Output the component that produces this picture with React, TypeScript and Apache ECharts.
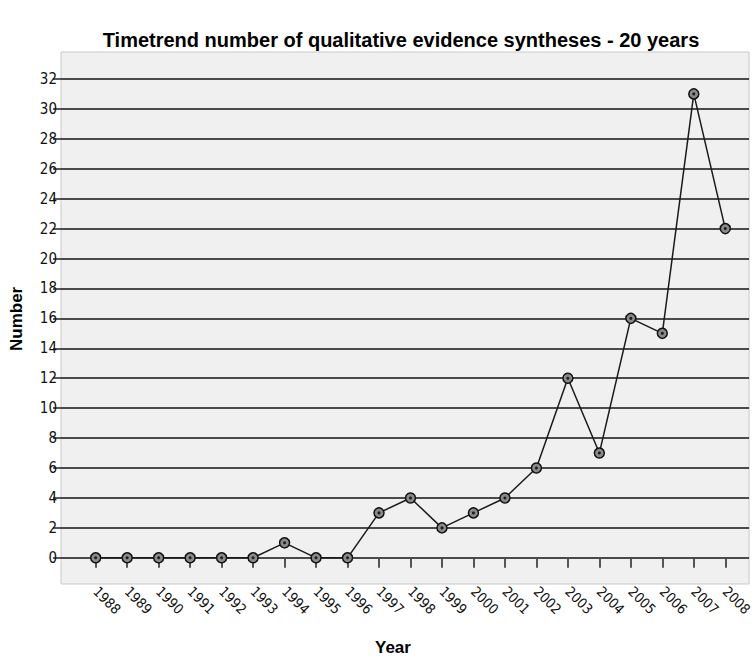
import React, { useEffect, useRef } from "react";
import * as echarts from "echarts";

const years = [1988, 1989, 1990, 1991, 1992, 1993, 1994, 1995, 1996, 1997, 1998, 1999, 2000, 2001, 2002, 2003, 2004, 2005, 2006, 2007, 2008];
const counts = [0, 0, 0, 0, 0, 0, 1, 0, 0, 3, 4, 2, 3, 4, 6, 12, 7, 16, 15, 31, 22];
const yTicks = [0, 2, 4, 6, 8, 10, 12, 14, 16, 18, 20, 22, 24, 26, 28, 30, 32];

const FONT = "'DejaVu Sans Condensed', 'Liberation Sans', Arial, sans-serif";
const TFONT = "'Liberation Sans', Arial, sans-serif";

export default function App() {
  const ref = useRef<HTMLDivElement>(null);
  useEffect(() => {
    if (!ref.current) return;
    const chart = echarts.init(ref.current, null, { renderer: "svg" });
    const pts = years.map((y, i) => [y, counts[i]]);
    chart.setOption({
      animation: false,
      backgroundColor: "#ffffff",
      title: {
        text: "Timetrend number of qualitative evidence syntheses - 20 years",
        left: 396,
        top: 25,
        textAlign: "center",
        textStyle: { fontFamily: TFONT, fontSize: 20, fontWeight: "bold", color: "#000" },
      },
      grid: {
        left: 61,
        right: 0,
        top: 52,
        bottom: 76,
        show: true,
        backgroundColor: "#f0f0f0",
        borderColor: "#c8c8c8",
        borderWidth: 1,
      },
      xAxis: {
        type: "value",
        min: 1986.898,
        max: 2008.756,
        axisLine: { show: false },
        splitLine: { show: false },
        axisTick: { show: true, customValues: years, length: 10, lineStyle: { color: "#222", width: 1.5 } },
        axisLabel: {
          customValues: years,
          rotate: -45,
          margin: 5,
          fontFamily: FONT,
          fontSize: 14,
          color: "#111",
          formatter: (v: number) => String(v),
        },
      },
      yAxis: {
        type: "value",
        min: -1.75,
        max: 33.8,
        axisLine: { show: false },
        splitLine: { show: false },
        axisTick: { show: true, customValues: yTicks, length: 8, lineStyle: { color: "#222", width: 1.5 } },
        axisLabel: {
          customValues: yTicks,
          margin: 4,
          fontFamily: FONT,
          fontSize: 15,
          color: "#111",
        },
      },
      graphic: [
        {
          type: "text",
          left: 375,
          top: 639,
          style: { text: "Year", font: `bold 17px ${TFONT}`, fill: "#000" },
        },
        {
          type: "text",
          x: 8,
          y: 351,
          rotation: Math.PI / 2,
          style: { text: "Number", font: `bold 17px ${TFONT}`, fill: "#000" },
        },
      ],
      series: [
        {
          type: "line",
          data: pts,
          z: 3,
          symbol: "circle",
          symbolSize: 10,
          lineStyle: { color: "#1a1a1a", width: 1.5 },
          itemStyle: { color: "#8a8a8a", borderColor: "#111", borderWidth: 1.5 },
          markLine: {
            silent: true,
            symbol: "none",
            label: { show: false },
            z: 1,
            lineStyle: { color: "#4a4a4a", width: 2, type: "solid" },
            data: yTicks.map((v) => ({ yAxis: v })),
          },
        },
        {
          type: "scatter",
          data: pts,
          z: 4,
          symbol: "circle",
          symbolSize: 3,
          itemStyle: { color: "#000" },
        },
      ],
    });
    return () => chart.dispose();
  }, []);
  return <div ref={ref} style={{ width: 755, height: 660, position: "absolute", left: 0, top: 0 }} />;
}
